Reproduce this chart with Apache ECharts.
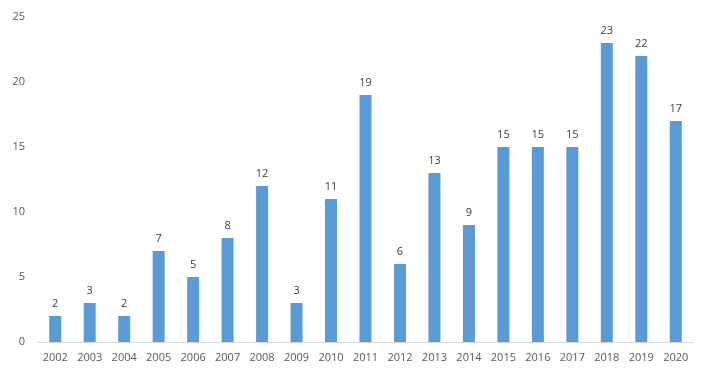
<!DOCTYPE html>
<html>
<head>
<meta charset="UTF-8">
<script src="https://cdn.jsdelivr.net/npm/echarts@6/dist/echarts.min.js"></script>
<style>
    html, body, #chart { margin: 0; padding: 0; width: 709px; height: 376px; background: #fff; }
</style>
</head>
<body>
<div id="chart"></div>
<script>
    var years = ["2002", "2003", "2004", "2005", "2006", "2007", "2008", "2009", "2010", "2011",
        "2012", "2013", "2014", "2015", "2016", "2017", "2018", "2019", "2020"];
    var counts = [2, 3, 2, 7, 5, 8, 12, 3, 11, 19, 6, 13, 9, 15, 15, 15, 23, 22, 17];
    var yTicks = [0, 5, 10, 15, 20, 25];

    var chart = echarts.init(document.getElementById("chart"));
    chart.setOption({
        animation: false,
        textStyle: { fontFamily: "Open Sans" },
        grid: { left: 38, right: 16, top: 17, bottom: 34 },
        xAxis: {
            type: "category",
            data: years,
            axisLine: { lineStyle: { color: "#d9d9d9", width: 1 } },
            axisTick: { show: false },
            axisLabel: { color: "#595959", fontSize: 11, margin: 10, interval: 0 }
        },
        yAxis: {
            type: "value",
            min: yTicks[0],
            max: yTicks[yTicks.length - 1],
            interval: 5,
            splitLine: { show: false },
            axisLine: { show: false },
            axisTick: { show: false },
            axisLabel: { color: "#595959", fontSize: 11, margin: 13 }
        },
        series: [{
            type: "bar",
            data: counts,
            barWidth: 12,
            itemStyle: { color: "#5b9bd5" },
            label: {
                show: true,
                position: "top",
                distance: 7,
                color: "#404040",
                fontSize: 11
            }
        }]
    });
</script>
</body>
</html>
